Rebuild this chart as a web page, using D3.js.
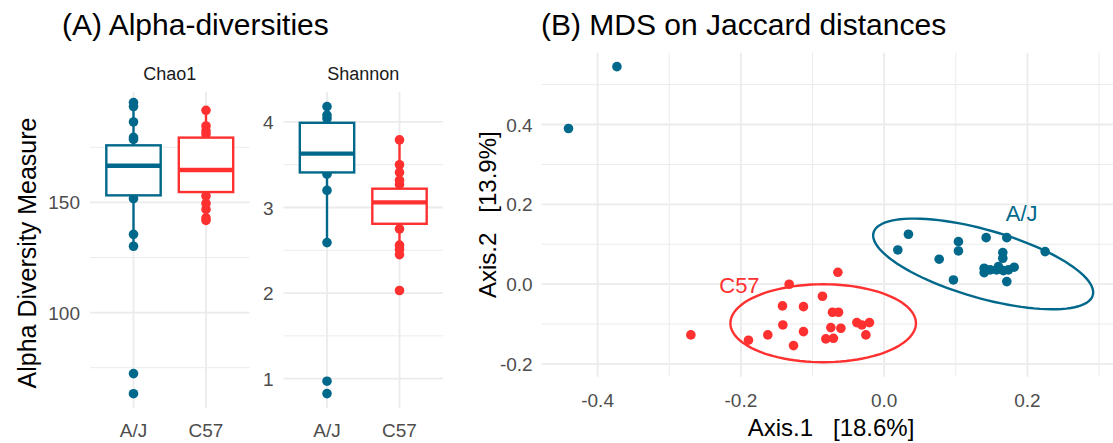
<!DOCTYPE html>
<html>
<head>
<meta charset="utf-8">
<script src="https://cdn.jsdelivr.net/npm/d3@7"></script>
<style>
  body { margin: 0; background: #fff; }
  svg text { font-family: "Liberation Sans", Arial, sans-serif; }
  .grid-major { stroke: #ebebeb; stroke-width: 1.8; }
  .grid-minor { stroke: #ebebeb; stroke-width: 1; }
  .tick-label { fill: #4d4d4d; font-size: 19px; }
</style>
</head>
<body>
<svg id="chart" width="1113" height="443"></svg>
<script>
// ---- data ----
const groups = ["A/J", "C57"];
const groupColor = ["#00688B", "#FF3030"];

// alpha diversity points (visible ones) and box stats [q1, median, q3, whiskerLow, whiskerHigh]
const chao1AJ = [195.3, 193.5, 186.5, 179.5, 178.6, 170, 165, 160, 151.7, 135.5, 130.1, 72.3, 63.2];
const chao1C57 = [191.8, 184.7, 182.4, 180.9, 172, 166, 160, 152.9, 149.5, 146.8, 143, 141.8];
const chao1Box = [[153.2, 166.6, 175.9, 130.1, 195.3], [154.7, 164.7, 179.4, 141.8, 191.8]];

const shannonAJ = [4.18, 4.08, 4.04, 3.8, 3.6, 3.39, 3.20, 2.59, 0.97, 0.825];
const shannonC57 = [3.79, 3.50, 3.41, 3.32, 3.27, 3.1, 2.95, 2.75, 2.56, 2.51, 2.45, 2.03];
const shannonBox = [[3.41, 3.63, 3.99, 2.59, 4.18], [2.81, 3.06, 3.22, 2.45, 3.79]];

// MDS ordination
const ajAxis1 = [-0.4406, -0.373, 0.0339, 0.0191, 0.0768, 0.1037, 0.1037, 0.0967, 0.1424, 0.1712,
                 0.2247, 0.1656, 0.1656, 0.1396, 0.1396, 0.148, 0.157, 0.1665, 0.1735, 0.1815, 0.1712, 0.1595];
const ajAxis2 = [0.390, 0.545, 0.125, 0.0857, 0.0624, 0.1065, 0.0832, 0.0105, 0.1165, 0.1165,
                 0.0815, 0.079, 0.0649, 0.0398, 0.0288, 0.0356, 0.0356, 0.0338, 0.0356, 0.0424, 0.0063, 0.044];
const c57Axis1 = [-0.2698, -0.1894, -0.1624, -0.1414, -0.1419, -0.1326, -0.1265, -0.1126, -0.1126, -0.0861,
                  -0.0646, -0.0721, -0.0637, -0.0744, -0.0604, -0.0814, -0.0708, -0.0381, -0.0311, -0.0205, -0.0255];
const c57Axis2 = [-0.1273, -0.1406, -0.1273, -0.1023, -0.0546, -0.0003, -0.154, -0.0564, -0.119, -0.0304,
                  0.0297, -0.0705, -0.0705, -0.109, -0.1106, -0.1373, -0.1357, -0.0964, -0.1023, -0.0964, -0.1273];

// 95% ellipses: centre, first axis vector, second axis vector (data units)
const ellipseAJ = [[0.1382, 0.0506], [0.153, -0.0787], [-0.01305, -0.082]];
const ellipseC57 = [[-0.0851, -0.098], [0.1295, 0], [0, 0.0977]];

const xTicksB = [-0.4, -0.2, 0.0, 0.2];
const xMinorB = [-0.3, -0.1, 0.1, 0.3];
const yTicksB = [-0.2, 0.0, 0.2, 0.4];
const yMinorB = [-0.1, 0.1, 0.3, 0.5];

const svg = d3.select("svg#chart");
const ptR = 4.8;

// ---- titles ----
svg.append("text").attr("x", 62).attr("y", 35).attr("font-size", 30).attr("fill", "#000")
  .text("(A) Alpha-diversities");
svg.append("text").attr("x", 541).attr("y", 35).attr("font-size", 30).attr("fill", "#000")
  .text("(B) MDS on Jaccard distances");

svg.append("text")
  .attr("transform", "translate(36,253) rotate(-90)")
  .attr("text-anchor", "middle").attr("font-size", 25).attr("fill", "#000")
  .text("Alpha Diversity Measure");

// ---- panel A facets ----
const panelTop = 92, panelBottom = 408;

function drawFacet(opt) {
  let x = d3.scaleLinear().domain([0.4, 2.6]).range([opt.left, opt.left + 159.5]);
  let y = d3.scaleLinear().domain(opt.domain).range([panelBottom, panelTop]);
  let g = svg.append("g");

  g.selectAll("line.minor").data(opt.minor).enter().append("line")
    .attr("class", "grid-minor")
    .attr("x1", x.range()[0]).attr("x2", x.range()[1])
    .attr("y1", function(d) { return y(d); }).attr("y2", function(d) { return y(d); });
  g.selectAll("line.major").data(opt.ticks).enter().append("line")
    .attr("class", "grid-major")
    .attr("x1", x.range()[0]).attr("x2", x.range()[1])
    .attr("y1", function(d) { return y(d); }).attr("y2", function(d) { return y(d); });
  g.selectAll("line.vert").data(groups).enter().append("line")
    .attr("class", "grid-major")
    .attr("x1", function(d, i) { return x(i + 1); }).attr("x2", function(d, i) { return x(i + 1); })
    .attr("y1", panelTop).attr("y2", panelBottom);

  g.selectAll("text.ytick").data(opt.ticks).enter().append("text")
    .attr("class", "tick-label")
    .attr("x", opt.left - 10).attr("y", function(d) { return y(d) + 7; })
    .attr("text-anchor", "end")
    .text(function(d) { return d; });

  g.selectAll("text.xtick").data(groups).enter().append("text")
    .attr("class", "tick-label")
    .attr("x", function(d, i) { return x(i + 1); }).attr("y", 437)
    .attr("text-anchor", "middle")
    .text(function(d) { return d; });

  g.append("text")
    .attr("x", (x.range()[0] + x.range()[1]) / 2).attr("y", 80)
    .attr("text-anchor", "middle").attr("font-size", 18).attr("fill", "#1a1a1a")
    .text(opt.name);

  opt.points.forEach(function(vals, i) {
    g.selectAll(null).data(vals).enter().append("circle")
      .attr("cx", x(i + 1)).attr("cy", function(d) { return y(d); })
      .attr("r", ptR).attr("fill", groupColor[i]);
  });

  opt.box.forEach(function(b, i) {
    let c = x(i + 1), hw = x(1.375) - x(1);
    g.append("line").attr("x1", c).attr("x2", c).attr("y1", y(b[2])).attr("y2", y(b[4]))
      .attr("stroke", groupColor[i]).attr("stroke-width", 2.4);
    g.append("line").attr("x1", c).attr("x2", c).attr("y1", y(b[0])).attr("y2", y(b[3]))
      .attr("stroke", groupColor[i]).attr("stroke-width", 2.4);
    g.append("rect")
      .attr("x", c - hw).attr("width", 2 * hw)
      .attr("y", y(b[2])).attr("height", y(b[0]) - y(b[2]))
      .attr("fill", "#fff").attr("stroke", groupColor[i]).attr("stroke-width", 2.4);
    g.append("line").attr("x1", c - hw).attr("x2", c + hw).attr("y1", y(b[1])).attr("y2", y(b[1]))
      .attr("stroke", groupColor[i]).attr("stroke-width", 4.4);
  });
}

drawFacet({name: "Chao1", left: 90, domain: [56.7, 200.1], ticks: [100, 150], minor: [75, 125, 175],
           points: [chao1AJ, chao1C57], box: chao1Box});
drawFacet({name: "Shannon", left: 283.5, domain: [0.657, 4.35], ticks: [1, 2, 3, 4], minor: [1.5, 2.5, 3.5],
           points: [shannonAJ, shannonC57], box: shannonBox});

// ---- panel B ----
let xB = d3.scaleLinear().domain([-0.478, 0.332]).range([541.7, 1122]);
let yB = d3.scaleLinear().domain([-0.232, 0.580]).range([376.7, 52.7]);
let gB = svg.append("g");

gB.selectAll(null).data(yMinorB).enter().append("line").attr("class", "grid-minor")
  .attr("x1", xB.range()[0]).attr("x2", xB.range()[1])
  .attr("y1", function(d) { return yB(d); }).attr("y2", function(d) { return yB(d); });
gB.selectAll(null).data(xMinorB).enter().append("line").attr("class", "grid-minor")
  .attr("y1", yB.range()[0]).attr("y2", yB.range()[1])
  .attr("x1", function(d) { return xB(d); }).attr("x2", function(d) { return xB(d); });
gB.selectAll(null).data(yTicksB).enter().append("line").attr("class", "grid-major")
  .attr("x1", xB.range()[0]).attr("x2", xB.range()[1])
  .attr("y1", function(d) { return yB(d); }).attr("y2", function(d) { return yB(d); });
gB.selectAll(null).data(xTicksB).enter().append("line").attr("class", "grid-major")
  .attr("y1", yB.range()[0]).attr("y2", yB.range()[1])
  .attr("x1", function(d) { return xB(d); }).attr("x2", function(d) { return xB(d); });

gB.selectAll(null).data(yTicksB).enter().append("text").attr("class", "tick-label")
  .attr("x", xB.range()[0] - 9).attr("y", function(d) { return yB(d) + 7; })
  .attr("text-anchor", "end")
  .text(function(d) { return d3.format(".1f")(d).replace("−", "-"); });
gB.selectAll(null).data(xTicksB).enter().append("text").attr("class", "tick-label")
  .attr("x", function(d) { return xB(d); }).attr("y", 407)
  .attr("text-anchor", "middle")
  .text(function(d) { return d3.format(".1f")(d).replace("−", "-"); });

svg.append("text").attr("x", 831).attr("y", 436)
  .attr("text-anchor", "middle").attr("font-size", 24).attr("fill", "#000")
  .style("white-space", "pre")
  .text("Axis.1   [18.6%]");
svg.append("text")
  .attr("transform", "translate(496," + ((yB.range()[0] + yB.range()[1]) / 2) + ") rotate(-90)")
  .attr("text-anchor", "middle").attr("font-size", 24).attr("fill", "#000")
  .style("white-space", "pre")
  .text("Axis.2   [13.9%]");

function ellipsePath(e) {
  let pts = d3.range(0, 101).map(function(k) {
    let t = 2 * Math.PI * k / 100;
    return [xB(e[0][0] + e[1][0] * Math.cos(t) + e[2][0] * Math.sin(t)),
            yB(e[0][1] + e[1][1] * Math.cos(t) + e[2][1] * Math.sin(t))];
  });
  return d3.line()(pts);
}

[ellipseAJ, ellipseC57].forEach(function(e, i) {
  gB.append("path").attr("d", ellipsePath(e))
    .attr("fill", "none").attr("stroke", groupColor[i]).attr("stroke-width", 2.4);
});

[[ajAxis1, ajAxis2], [c57Axis1, c57Axis2]].forEach(function(s, i) {
  gB.selectAll(null).data(s[0]).enter().append("circle")
    .attr("cx", function(d) { return xB(d); })
    .attr("cy", function(d, j) { return yB(s[1][j]); })
    .attr("r", ptR).attr("fill", groupColor[i]);
});

// group labels next to the ellipses
gB.append("text").attr("x", xB(0.192)).attr("y", yB(0.178) + 8)
  .attr("text-anchor", "middle").attr("font-size", 22).attr("fill", groupColor[0]).text("A/J");
gB.append("text").attr("x", xB(-0.202)).attr("y", yB(-0.002) + 8)
  .attr("text-anchor", "middle").attr("font-size", 22).attr("fill", groupColor[1]).text("C57");
</script>
</body>
</html>
